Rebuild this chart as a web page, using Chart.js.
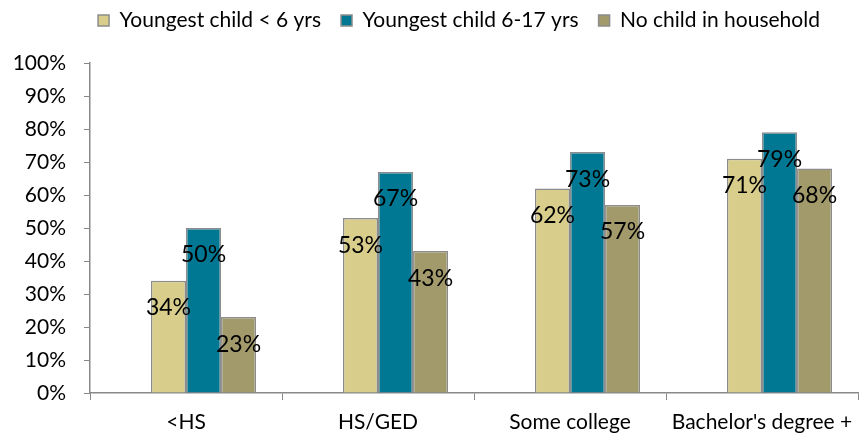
<!DOCTYPE html>
<html>
<head>
<meta charset="utf-8">
<script src="https://cdn.jsdelivr.net/npm/chart.js@4"></script>
<style>
  html, body { margin: 0; padding: 0; background: #fff; }
  #wrap { width: 863px; height: 438px; }
</style>
</head>
<body>
<div id="wrap"><canvas id="eduChart"></canvas></div>
<script>
const categories = ['<HS', 'HS/GED', 'Some college', "Bachelor's degree +"];
const seriesNames = ['Youngest child < 6 yrs', 'Youngest child 6-17 yrs', 'No child in household'];
const under6 = [34, 53, 62, 71];
const age6to17 = [50, 67, 73, 79];
const noChild = [23, 43, 57, 68];
// the original has an empty series slot before the three real ones
const emptySlot = [null, null, null, null];
const yTicks = [0, 10, 20, 30, 40, 50, 60, 70, 80, 90, 100];

const FONT = 'Lato, "Open Sans", sans-serif';

// labels sit a little under the top of each bar, like the excel original
const barLabels = {
  id: 'barLabels',
  afterDatasetsDraw(chart) {
    const ctx = chart.ctx;
    ctx.save();
    ctx.font = `23px ${FONT}`;
    ctx.fillStyle = '#000';
    ctx.textAlign = 'center';
    ctx.textBaseline = 'middle';
    chart.data.datasets.forEach((ds, i) => {
      chart.getDatasetMeta(i).data.forEach((bar, j) => {
        if (ds.data[j] == null) return;
        ctx.fillText(ds.data[j] + '%', bar.x, bar.y + 27);
      });
    });
    ctx.restore();
  }
};

// extra room between legend and plot, legend nudged right
const legendGap = {
  id: 'legendGap',
  afterInit(chart) {
    const legend = chart.legend;
    const fit = legend.fit;
    const draw = legend.draw;
    legend.fit = function() {
      fit.call(this);
      this.height += 22;
    };
    legend.draw = function() {
      const ctx = this.ctx;
      ctx.save();
      ctx.translate(30, 0);
      draw.call(this);
      ctx.restore();
    };
  }
};

new Chart(document.getElementById('eduChart').getContext('2d'), {
  type: 'bar',
  data: {
    labels: categories,
    datasets: [
      { label: '', data: emptySlot, backgroundColor: 'rgba(0,0,0,0)' },
      { label: seriesNames[0], data: under6, backgroundColor: '#d8cd8b' },
      { label: seriesNames[1], data: age6to17, backgroundColor: '#007894' },
      { label: seriesNames[2], data: noChild, backgroundColor: '#a29a6b' }
    ]
  },
  plugins: [barLabels, legendGap],
  options: {
    responsive: true,
    maintainAspectRatio: false,
    animation: false,
    layout: { padding: { left: 0, right: 5, top: -10, bottom: 0 } },
    datasets: {
      bar: {
        categoryPercentage: 0.73,
        barPercentage: 1,
        borderColor: '#8c8c8c',
        borderWidth: 1.5
      }
    },
    plugins: {
      legend: {
        position: 'top',
        labels: {
          font: { family: FONT, size: 21 },
          color: '#000',
          boxWidth: 11,
          boxHeight: 11,
          padding: 20,
          filter: item => item.text !== ''
        }
      },
      tooltip: { enabled: false }
    },
    scales: {
      x: {
        grid: {
          offset: true,
          drawOnChartArea: false,
          color: '#888',
          tickLength: 7
        },
        border: { color: '#888', width: 1.5 },
        ticks: { color: '#000', font: { family: FONT, size: 21 }, padding: 10 },
        afterFit(axis) { axis.height = 45; }
      },
      y: {
        min: 0,
        max: 100,
        afterBuildTicks(axis) { axis.ticks = yTicks.map(v => ({ value: v })); },
        grid: {
          drawOnChartArea: false,
          color: '#888',
          tickLength: 6
        },
        border: { color: '#888', width: 1.5 },
        ticks: {
          color: '#000',
          font: { family: FONT, size: 21 },
          padding: 18,
          callback: v => v + '%'
        },
        afterFit(axis) { axis.width = 90; }
      }
    }
  }
});
</script>
</body>
</html>
